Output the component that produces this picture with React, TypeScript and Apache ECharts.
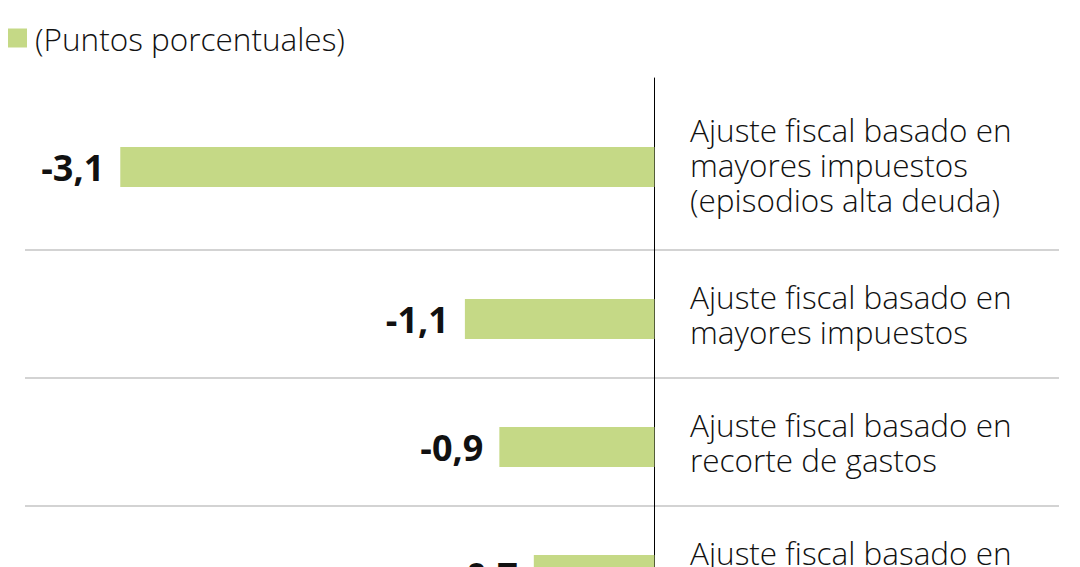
import React, { useEffect, useRef } from "react";
import * as echarts from "echarts";

// ---- data ----
const legendLabel = "(Puntos porcentuales)";
const categories = [
  "Ajuste fiscal basado en\nmayores impuestos\n(episodios alta deuda)",
  "Ajuste fiscal basado en\nmayores impuestos",
  "Ajuste fiscal basado en\nrecorte de gastos",
  "Ajuste fiscal basado en\nrecorte de gastos (episodios alta deuda)",
];
const values = [-3.1, -1.1, -0.9, -0.7];

const BAR_COLOR = "#C5D986";
const TEXT_COLOR = "#111111";
const FONT = "'Open Sans', 'Noto Sans', sans-serif";

const fmt = (v: number) => v.toFixed(1).replace(".", ",");

export default function App() {
  const ref = useRef<HTMLDivElement>(null);

  useEffect(() => {
    if (!ref.current) return;
    const chart = echarts.init(ref.current, undefined, { renderer: "svg" });

    const topCats = categories.slice(0, 1);
    const topVals = values.slice(0, 1);
    const restCats = categories.slice(1);
    const restVals = values.slice(1);

    const xMin = -3.653;
    const xMax = 2.348;

    const xAxisBase = {
      type: "value" as const,
      min: xMin,
      max: xMax,
      show: false,
    };

    const yAxisBase = (cats: string[], gridIndex: number, split: boolean) => ({
      type: "category" as const,
      gridIndex,
      data: cats,
      inverse: true,
      position: "right" as const,
      axisLine: { show: true, onZero: true, lineStyle: { color: "#000", width: 1 } },
      axisTick: { show: false },
      splitLine: {
        show: split,
        interval: 0,
        lineStyle: { color: "#c4c4c4", width: 1.5 },
      },
      axisLabel: {
        margin: -369,
        align: "left" as const,
        fontFamily: FONT,
        fontWeight: 300,
        fontSize: 31.5,
        lineHeight: 35,
        color: TEXT_COLOR,
        interval: 0,
      },
    });

    const valueLabel = {
      show: true,
      position: "left" as const,
      distance: 16,
      fontFamily: FONT,
      fontWeight: "bold" as const,
      fontSize: 36,
      color: TEXT_COLOR,
      formatter: (p: any) => fmt(p.value),
    };

    const gridBase = {
      left: 25,
      right: 21,
      containLabel: false,
      outerBoundsMode: "none",
    };

    chart.setOption({
      animation: false,
      legend: {
        data: [{ name: legendLabel, icon: "rect" }],
        left: 8,
        top: 22,
        padding: 0,
        itemWidth: 19,
        itemHeight: 19,
        selectedMode: false,
        textStyle: {
          fontFamily: FONT,
          fontWeight: 300,
          fontSize: 31.5,
          lineHeight: 30,
          color: TEXT_COLOR,
          padding: [0, 0, 0, 3],
        },
      },
      grid: [
        { ...gridBase, top: 78, height: 172 },
        { ...gridBase, top: 250, height: 384 },
      ],
      xAxis: [
        { ...xAxisBase, gridIndex: 0 },
        { ...xAxisBase, gridIndex: 1 },
      ],
      yAxis: [yAxisBase(topCats, 0, false), yAxisBase(restCats, 1, true)],
      series: [
        {
          name: "padA",
          type: "bar",
          xAxisIndex: 0,
          yAxisIndex: 0,
          data: topCats.map(() => null),
          barWidth: 40,
          silent: true,
        },
        {
          name: legendLabel,
          type: "bar",
          xAxisIndex: 0,
          yAxisIndex: 0,
          data: topVals,
          barWidth: 40,
          barGap: "-85%",
          itemStyle: { color: BAR_COLOR },
          label: valueLabel,
        },
        {
          name: "padB",
          type: "bar",
          xAxisIndex: 1,
          yAxisIndex: 1,
          data: restCats.map(() => null),
          barWidth: 40,
          silent: true,
        },
        {
          name: legendLabel,
          type: "bar",
          xAxisIndex: 1,
          yAxisIndex: 1,
          data: restVals,
          barWidth: 40,
          barGap: "-75%",
          itemStyle: { color: BAR_COLOR },
          label: valueLabel,
        },
      ],
    });

    return () => chart.dispose();
  }, []);

  return (
    <div
      style={{
        position: "fixed",
        left: 0,
        top: 0,
        width: 1080,
        height: 567,
        overflow: "hidden",
        background: "#fff",
      }}
    >
      <div ref={ref} style={{ width: 1080, height: 660 }} />
    </div>
  );
}
